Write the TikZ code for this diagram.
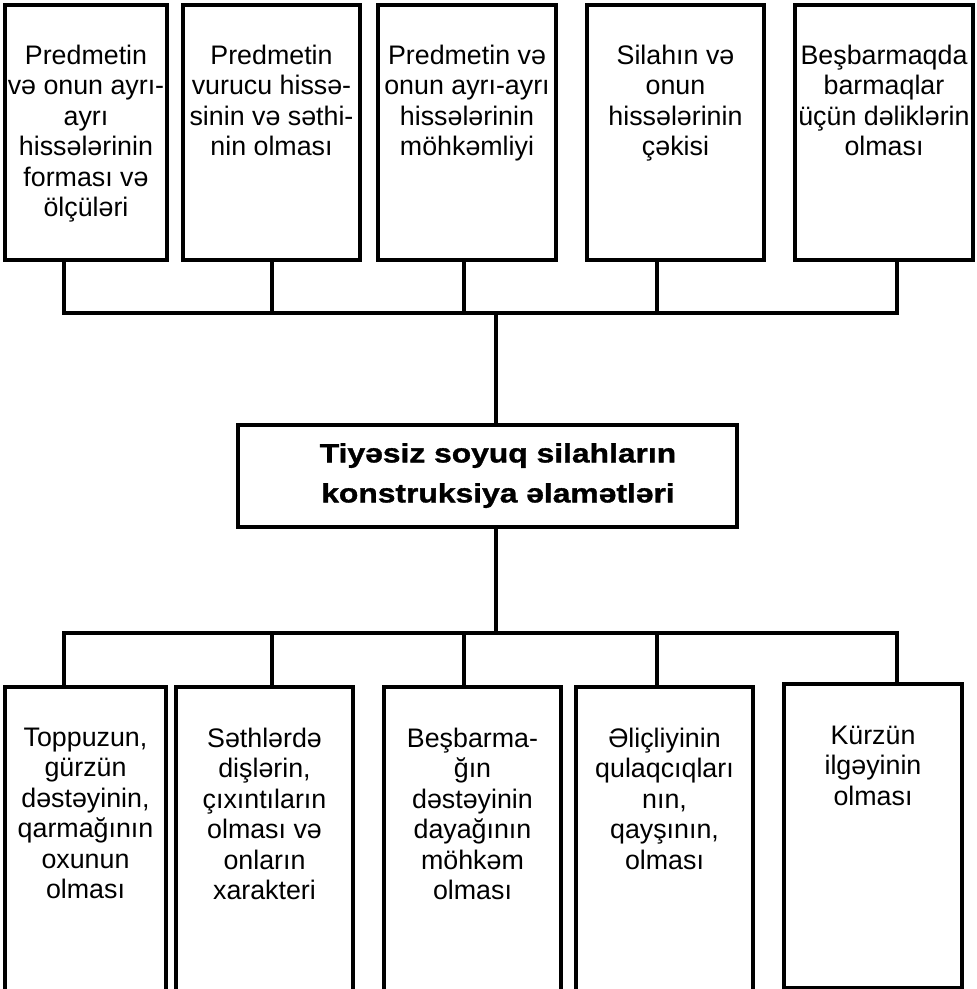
\documentclass[tikz,border=0pt]{standalone}
\usepackage{fontspec}
\setmainfont{Liberation Sans}
\newfontfamily\titlefont{Liberation Sans}[FakeStretch=1.2, BoldFeatures={FakeBold=1.3}]
\begin{document}
\begin{tikzpicture}[x=1pt,y=-1pt,
  box/.style={draw=black, line width=3.2pt, inner sep=0pt, fill=white},
  txt/.style={align=center, inner sep=0pt, anchor=north, font=\fontsize{26.8}{30.5}\selectfont},
  ttl/.style={align=center, inner sep=0pt, anchor=north, font=\titlefont\bfseries\fontsize{26.5}{40}\selectfont},
  conn/.style={draw=black, line width=3.2pt}]
\path[use as bounding box] (0,0) rectangle (977,989);
\clip (0,0) rectangle (977,989);

% top boxes
\node[box, minimum width=162pt, minimum height=255pt] (t1) at (86,132.5) {};
\node[box, minimum width=177pt, minimum height=255pt] (t2) at (271.5,132.5) {};
\node[box, minimum width=178pt, minimum height=255pt] (t3) at (467,132.5) {};
\node[box, minimum width=177pt, minimum height=255pt] (t4) at (675.5,132.5) {};
\node[box, minimum width=178pt, minimum height=255pt] (t5) at (884,132.5) {};

\node[txt] (tt1) at (86,44.5) {Predmetin\\və onun ayrı-\\ayrı\\hissələrinin\\forması və\\ölçüləri};
\node[txt] (tt2) at (271.5,44.5) {Predmetin\\vurucu hissə-\\sinin və səthi-\\nin olması};
\node[txt] (tt3) at (467,44.5) {Predmetin və\\onun ayrı-ayrı\\hissələrinin\\möhkəmliyi};
\node[txt] (tt4) at (675.5,44.5) {Silahın və\\onun\\hissələrinin\\çəkisi};
\node[txt] (tt5) at (884,44.5) {Beşbarmaqda\\barmaqlar\\üçün dəliklərin\\olması};

% centre box
\node[box, minimum width=499pt, minimum height=102pt] (c) at (487.5,476) {};
\node[ttl] (ct) at (498,443) {Tiyəsiz soyuq silahların\\konstruksiya əlamətləri};

% bottom boxes
\node[box, minimum width=161pt, minimum height=313pt] (b1) at (85.5,843.5) {};
\node[box, minimum width=177pt, minimum height=313pt] (b2) at (264.5,843.5) {};
\node[box, minimum width=177pt, minimum height=313pt] (b3) at (472.5,843.5) {};
\node[box, minimum width=177pt, minimum height=313pt] (b4) at (664.5,843.5) {};
\node[box, minimum width=178pt, minimum height=304pt] (b5) at (873,836) {};

\node[txt] (bt1) at (85.5,727.5) {Toppuzun,\\gürzün\\dəstəyinin,\\qarmağının\\oxunun\\olması};
\node[txt] (bt2) at (264.5,727.5) {Səthlərdə\\dişlərin,\\çıxıntıların\\olması və\\onların\\xarakteri};
\node[txt] (bt3) at (472.5,727.5) {Beşbarma-\\ğın\\dəstəyinin\\dayağının\\möhkəm\\olması};
\node[txt] (bt4) at (664.5,727.5) {Əliçliyinin\\qulaqcıqları\\nın,\\qayşının,\\olması};
\node[txt] (bt5) at (873,725.5) {Kürzün\\ilgəyinin\\olması};

% connector coordinates
\coordinate (ts1) at (64,313);
\coordinate (ts2) at (272,313);
\coordinate (ts3) at (464,313);
\coordinate (ts4) at (657,313);
\coordinate (ts5) at (897,313);
\coordinate (tb) at (496,313);
\coordinate (bs1) at (64,633);
\coordinate (bs2) at (272,633);
\coordinate (bs3) at (464,633);
\coordinate (bs4) at (657,633);
\coordinate (bs5) at (897,633);
\coordinate (bb) at (496,633);

% top connectors
\draw[conn] (ts1 |- t1.south) -- (ts1) -- (ts5) -- (ts5 |- t5.south);
\draw[conn] (ts2 |- t2.south) -- (ts2);
\draw[conn] (ts3 |- t3.south) -- (ts3);
\draw[conn] (ts4 |- t4.south) -- (ts4);
\draw[conn] (tb) -- (tb |- c.north);

% bottom connectors
\draw[conn] (bb |- c.south) -- (bb);
\draw[conn] (bs1 |- b1.north) -- (bs1) -- (bs5) -- (bs5 |- b5.north);
\draw[conn] (bs2) -- (bs2 |- b2.north);
\draw[conn] (bs3) -- (bs3 |- b3.north);
\draw[conn] (bs4) -- (bs4 |- b4.north);
\end{tikzpicture}
\end{document}
